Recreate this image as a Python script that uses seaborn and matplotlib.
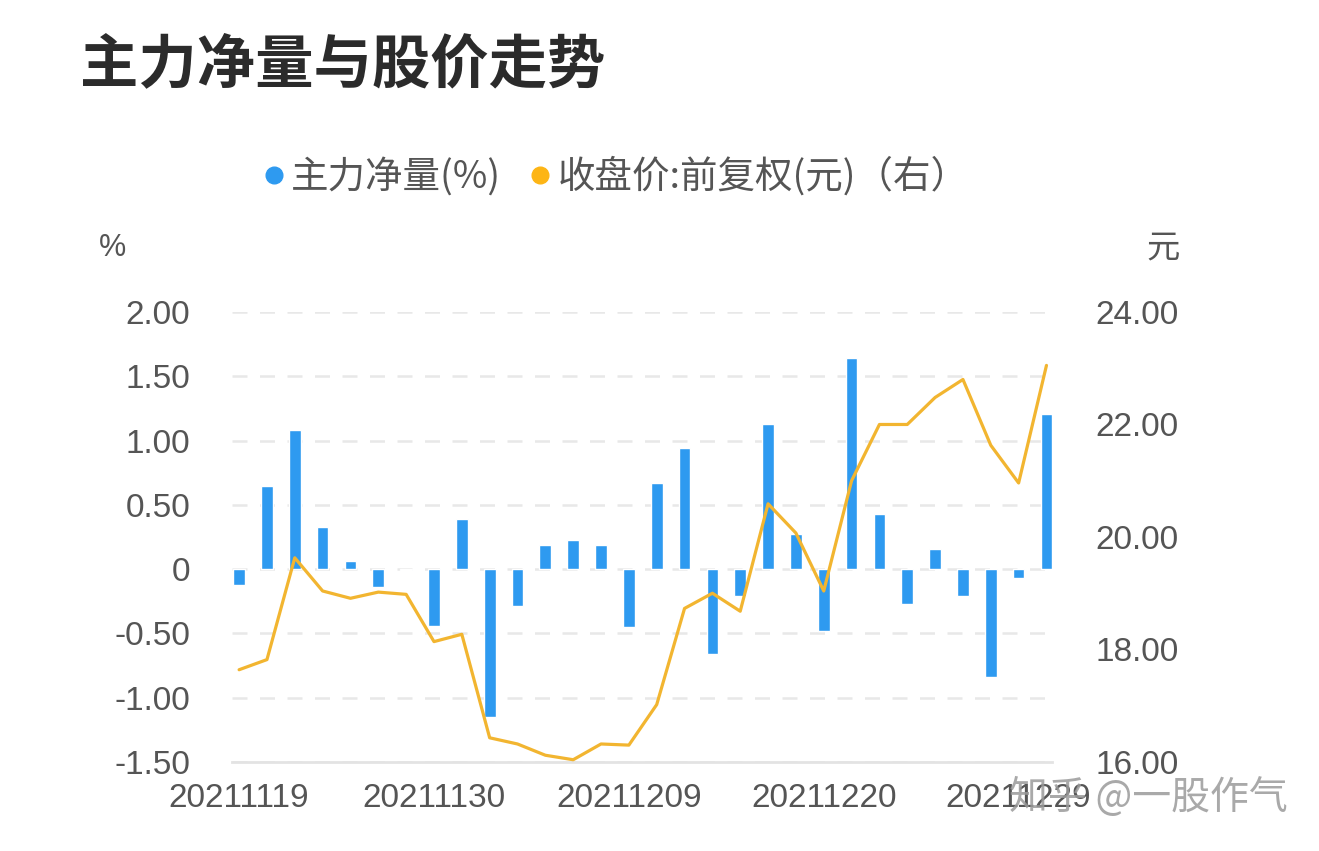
import matplotlib
matplotlib.use("Agg")
import matplotlib.pyplot as plt
from matplotlib.lines import Line2D
import seaborn as sns
import pandas as pd

dates = ["20211119", "20211122", "20211123", "20211124", "20211125", "20211126",
         "20211129", "20211130", "20211201", "20211202", "20211203", "20211206",
         "20211207", "20211208", "20211209", "20211210", "20211213", "20211214",
         "20211215", "20211216", "20211217", "20211220", "20211221", "20211222",
         "20211223", "20211224", "20211227", "20211228", "20211229", "20211230"]
net_flow = [-0.12, 0.65, 1.08, 0.33, 0.06, -0.14, -0.01, -0.44, 0.39, -1.15,
            -0.29, 0.19, 0.23, 0.19, -0.45, 0.67, 0.94, -0.66, -0.21, 1.13,
            0.27, -0.48, 1.64, 0.43, -0.27, 0.16, -0.21, -0.84, -0.07, 1.21]
close_price = [17.64, 17.82, 19.63, 19.04, 18.91, 19.02, 18.98, 18.14, 18.27, 16.43,
               16.32, 16.12, 16.04, 16.32, 16.30, 17.02, 18.73, 19.00, 18.68, 20.59,
               20.07, 19.04, 21.00, 22.00, 22.00, 22.48, 22.80, 21.63, 20.96, 23.05]
left_ticks = [-1.5, -1.0, -0.5, 0.0, 0.5, 1.0, 1.5, 2.0]
left_labels = ["-1.50", "-1.00", "-0.50", "0", "0.50", "1.00", "1.50", "2.00"]
right_ticks = [16, 18, 20, 22, 24]
right_labels = ["16.00", "18.00", "20.00", "22.00", "24.00"]
xtick_idx = [0, 7, 14, 21, 28]

sns.set_theme(style="white")
plt.rcParams['font.family'] = ['Noto Sans CJK SC', 'DejaVu Sans']

BLUE = "#2E9AF0"
ORANGE = "#F2B530"
TXT = "#555555"
NUM_FONT = ['Liberation Sans Narrow', 'Liberation Sans', 'DejaVu Sans']
NUM_SIZE = 24

df = pd.DataFrame({"idx": list(range(len(dates))), "date": dates,
                   "flow": net_flow, "price": close_price})

fig = plt.figure(figsize=(13.19, 8.51), dpi=100)
ax = fig.add_axes([0.176, 0.1046, 0.6216, 0.5288])

sns.barplot(data=df, x="idx", y="flow", color=BLUE, width=0.42, ax=ax,
            saturation=1, zorder=3)
ax.set_xlim(-0.25, 29.2)
ax.set_ylim(-1.5, 2.0)
ax.set_yticks(left_ticks)
ax.set_yticklabels(left_labels, family=NUM_FONT, fontsize=NUM_SIZE, color=TXT)
ax.set_xticks(xtick_idx)
ax.set_xticklabels([dates[i] for i in xtick_idx], family=NUM_FONT, fontsize=NUM_SIZE, color=TXT)
ax.tick_params(axis="y", length=0, pad=30)
ax.tick_params(axis="x", length=0, pad=15)
ax.set_xlabel("")
ax.set_ylabel("")
for s in ["top", "right", "left"]:
    ax.spines[s].set_visible(False)
ax.spines["bottom"].set_color("#e3e3e3")
ax.spines["bottom"].set_linewidth(2)
ax.yaxis.grid(True, linestyle=(0, (6, 5)), color="#e8e8e8", linewidth=1.8, zorder=0)
ax.xaxis.grid(False)
ax.set_axisbelow(True)

ax2 = ax.twinx()
sns.lineplot(data=df, x="idx", y="price", color=ORANGE, linewidth=2.3, ax=ax2, zorder=4)
ax2.set_ylim(16, 24)
ax2.set_xlim(-0.25, 29.2)
ax2.set_yticks(right_ticks)
ax2.set_yticklabels(right_labels, family=NUM_FONT, fontsize=NUM_SIZE, color=TXT)
ax2.tick_params(axis="y", length=0, pad=31)
ax2.set_ylabel("")
ax2.set_xlabel("")
for s in ["top", "right", "left", "bottom"]:
    ax2.spines[s].set_visible(False)
ax2.grid(False)

fig.text(0.061, 0.924, "主力净量与股价走势", fontsize=42, fontweight="bold",
         color="#2b2b2b", va="center", ha="left")
fig.text(0.085, 0.708, "%", fontsize=22, color=TXT, va="center", ha="center",
         family=NUM_FONT)
fig.text(0.882, 0.708, "元", fontsize=24, color=TXT, va="center", ha="center")

handles = [Line2D([], [], marker="o", linestyle="", color=BLUE, markersize=12),
           Line2D([], [], marker="o", linestyle="", color="#FDB515", markersize=12)]
leg = fig.legend(handles, ["主力净量(%)", "收盘价:前复权(元)（右）"], loc="center",
                 bbox_to_anchor=(0.466, 0.792), ncol=2, frameon=False,
                 fontsize=27, handletextpad=0.1, columnspacing=0.7, handlelength=0.7)
for t in leg.get_texts():
    t.set_color(TXT)

fig.text(0.976, 0.062, "知乎 @一股作气", fontsize=28, color="#9a9a9a", alpha=0.85,
         ha="right", va="center")

fig.savefig("out.png", dpi=100, facecolor="white")
